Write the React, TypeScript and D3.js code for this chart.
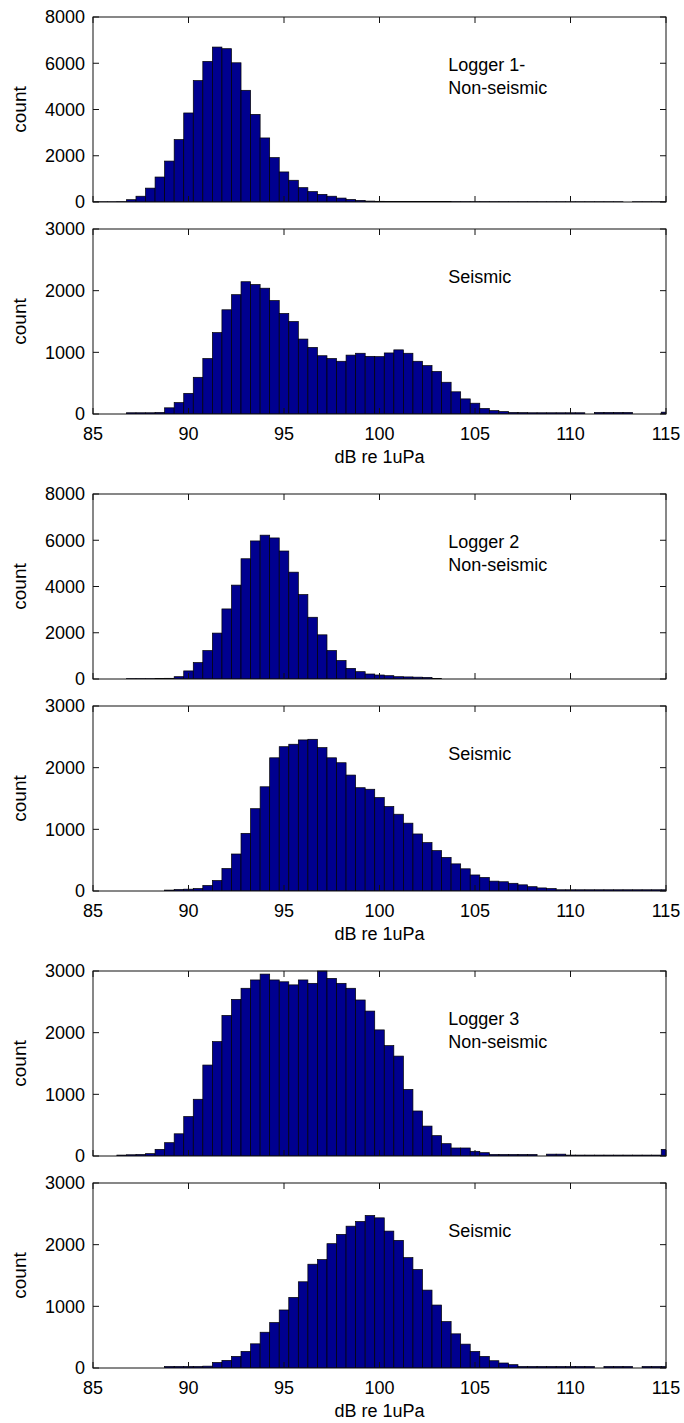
import React, { useEffect, useRef } from 'react';
import * as d3 from 'd3';

// histogram bins: centres every 0.5 dB from 85 to 115
const binStart = 85;
const binWidth = 0.5;

const logger1Quiet = [10, 10, 10, 15, 100, 250, 600, 1080, 1770, 2700, 3850, 5250, 6080, 6700, 6630, 6020,
  4830, 3790, 2770, 1920, 1300, 940, 620, 450, 330, 250, 170, 110, 70, 40, 30, 25, 22, 20,
  20, 18, 18, 16, 15, 15, 14, 14, 13, 13, 12, 12, 12, 11, 11, 11, 10, 10, 10, 10, 10, 10, 0, 10, 10, 10, 10];
const logger1Seismic = [0, 0, 0, 0, 20, 20, 20, 25, 100, 185, 335, 595, 900, 1320, 1690, 1935,
  2145, 2100, 2040, 1840, 1630, 1500, 1215, 1080, 945, 900, 855, 955, 985, 935, 930, 990, 1040, 985,
  855, 785, 690, 515, 360, 245, 175, 90, 55, 40, 25, 22, 20, 20, 20, 20, 20, 20, 0, 25, 25, 25, 25, 0, 0, 0, 30];
const logger2Quiet = [0, 0, 0, 0, 15, 15, 15, 20, 30, 100, 350, 710, 1230, 1985, 3030, 4060,
  5200, 5970, 6220, 6100, 5535, 4620, 3650, 2670, 1910, 1230, 800, 460, 317, 216, 173, 144, 100, 90,
  80, 70, 20, 0, 0, 0, 0, 0, 0, 0, 0, 0, 0, 0, 0, 0, 0, 0, 0, 0, 0, 0, 0, 0, 0, 0, 0];
const logger2Seismic = [0, 0, 0, 0, 0, 0, 0, 0, 15, 25, 30, 40, 90, 170, 365, 600,
  935, 1335, 1690, 2160, 2340, 2380, 2450, 2460, 2325, 2160, 2080, 1880, 1675, 1650, 1515, 1370, 1245, 1100,
  925, 785, 655, 545, 440, 360, 260, 220, 160, 150, 125, 100, 70, 50, 40, 20, 20, 20, 20, 20, 20, 20, 20, 20, 20, 20, 20];
const logger3Quiet = [0, 0, 0, 15, 20, 25, 38, 108, 216, 360, 640, 920, 1475, 1855, 2280, 2540,
  2720, 2855, 2950, 2855, 2825, 2775, 2855, 2800, 3000, 2880, 2800, 2720, 2530, 2350, 2045, 1790, 1620, 1080,
  730, 485, 330, 200, 130, 130, 76, 54, 25, 25, 25, 25, 25, 0, 30, 30, 15, 15, 15, 15, 15, 15, 15, 15, 15, 15, 108];
const logger3Seismic = [0, 0, 0, 0, 0, 0, 0, 0, 25, 25, 25, 25, 30, 90, 124, 188,
  269, 392, 580, 737, 941, 1145, 1398, 1683, 1758, 2016, 2167, 2300, 2376, 2473, 2435, 2220, 2070, 1790,
  1597, 1263, 1021, 753, 554, 387, 269, 188, 118, 81, 54, 25, 25, 25, 25, 25, 25, 25, 25, 0, 25, 25, 25, 0, 25, 25, 25];

const panelSeries = [logger1Quiet, logger1Seismic, logger2Quiet, logger2Seismic, logger3Quiet, logger3Seismic];
const panelMax = [8000, 3000, 8000, 3000, 3000, 3000];
const panelLabels = [
  ['Logger 1-', 'Non-seismic'],
  ['Seismic'],
  ['Logger 2', 'Non-seismic'],
  ['Seismic'],
  ['Logger 3', 'Non-seismic'],
  ['Seismic'],
];
const xTicks = [85, 90, 95, 100, 105, 110, 115];
const yTicks8000 = [0, 2000, 4000, 6000, 8000];
const yTicks3000 = [0, 1000, 2000, 3000];
const xLabel = 'dB re 1uPa';
const yLabel = 'count';

const App = () => {
  const svgRef = useRef(null);

  useEffect(() => {
    const svg = d3.select(svgRef.current);
    svg.selectAll('*').remove();

    const left = 93;
    const right = 666;
    const plotH = 185;
    const tops = [17, 229, 494, 706, 971, 1183];
    const tick = 6;
    const font = '"Liberation Sans", Arial, sans-serif';

    const x = d3.scaleLinear().domain([85, 115]).range([left, right]);

    panelSeries.forEach((series, p) => {
      const top = tops[p];
      const bottom = top + plotH;
      const y = d3.scaleLinear().domain([0, panelMax[p]]).range([bottom, top]);
      const yTicks = panelMax[p] === 8000 ? yTicks8000 : yTicks3000;
      const g = svg.append('g');

      const clipId = 'clip' + p;
      svg.append('clipPath').attr('id', clipId)
        .append('rect').attr('x', left).attr('y', top - 1).attr('width', right - left).attr('height', plotH + 1);

      // bars
      g.append('g').attr('clip-path', `url(#${clipId})`)
        .selectAll('rect')
        .data(series.map((v, i) => ({ c: binStart + i * binWidth, v })))
        .enter()
        .append('rect')
        .attr('x', d => x(d.c - binWidth / 2))
        .attr('width', d => x(d.c + binWidth / 2) - x(d.c - binWidth / 2))
        .attr('y', d => y(d.v))
        .attr('height', d => y(0) - y(d.v))
        .attr('fill', '#00008f')
        .attr('stroke', d => d.v > 0 ? '#000' : 'none')
        .attr('stroke-width', 0.7);

      // box
      g.append('rect')
        .attr('x', left).attr('y', top)
        .attr('width', right - left).attr('height', plotH)
        .attr('fill', 'none').attr('stroke', '#111').attr('stroke-width', 1);

      // x ticks (inward, top and bottom)
      xTicks.forEach(t => {
        g.append('line').attr('x1', x(t)).attr('x2', x(t)).attr('y1', bottom).attr('y2', bottom - tick).attr('stroke', '#111');
        g.append('line').attr('x1', x(t)).attr('x2', x(t)).attr('y1', top).attr('y2', top + tick).attr('stroke', '#111');
      });

      // y ticks (inward, left and right) with labels
      yTicks.forEach(t => {
        g.append('line').attr('x1', left).attr('x2', left + tick).attr('y1', y(t)).attr('y2', y(t)).attr('stroke', '#111');
        g.append('line').attr('x1', right).attr('x2', right - tick).attr('y1', y(t)).attr('y2', y(t)).attr('stroke', '#111');
        g.append('text')
          .attr('x', left - 8).attr('y', y(t)).attr('dy', '0.36em')
          .attr('text-anchor', 'end')
          .attr('font-family', font).attr('font-size', 18)
          .text(t);
      });

      // y label
      g.append('text')
        .attr('transform', `translate(${26},${(top + bottom) / 2}) rotate(-90)`)
        .attr('text-anchor', 'middle')
        .attr('font-family', font).attr('font-size', 19)
        .text(yLabel);

      // panel annotation
      panelLabels[p].forEach((line, i) => {
        g.append('text')
          .attr('x', x(103.6)).attr('y', top + 54 + i * 23)
          .attr('font-family', font).attr('font-size', 18)
          .text(line);
      });

      // x tick labels and axis label only under the seismic panel of each pair
      if (p % 2 === 1) {
        xTicks.forEach(t => {
          g.append('text')
            .attr('x', x(t)).attr('y', bottom + 26)
            .attr('text-anchor', 'middle')
            .attr('font-family', font).attr('font-size', 18)
            .text(t);
        });
        g.append('text')
          .attr('x', (left + right) / 2).attr('y', bottom + 49)
          .attr('text-anchor', 'middle')
          .attr('font-family', font).attr('font-size', 18)
          .text(xLabel);
      }
    });
  }, []);

  return (
    <svg ref={svgRef} width={684} height={1423}
      style={{ position: 'absolute', left: 0, top: 0, background: '#fff' }} />
  );
};

export default App;
